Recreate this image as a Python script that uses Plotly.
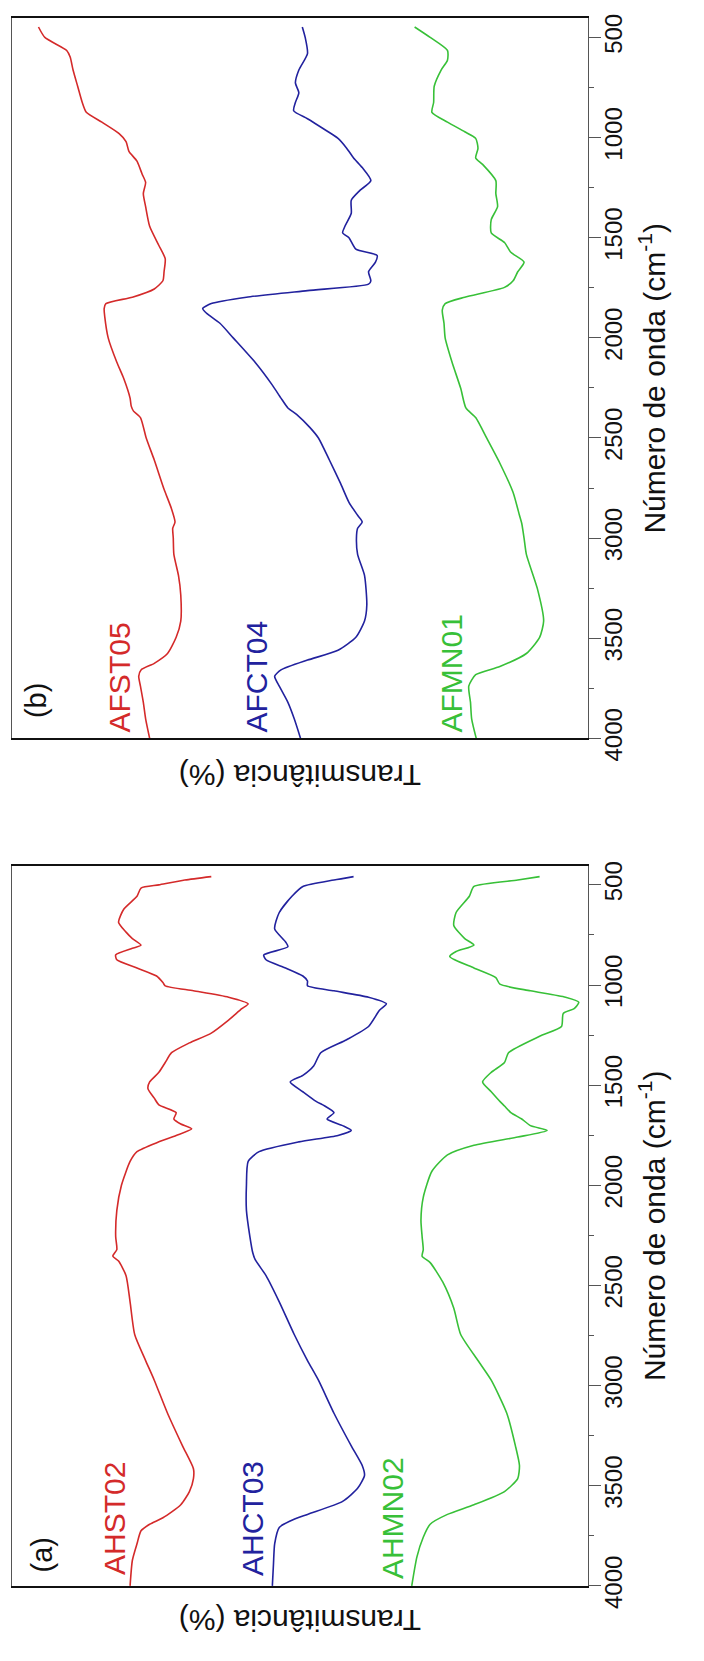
import plotly.graph_objects as go

# ---------------- data: panel (b) ----------------
wn_b_st05 = [448, 500, 565, 598, 663, 744, 825, 874, 923, 980, 1020, 1069, 1118, 1183, 1224, 1280, 1345, 1443, 1539, 1605, 1670, 1715, 1756, 1797, 1829, 1854, 1894, 2000, 2122, 2203, 2301, 2341, 2366, 2398, 2500, 2610, 2756, 2854, 2919, 2951, 3000, 3081, 3186, 3284, 3414, 3495, 3576, 3625, 3658, 3690, 3739, 3820, 3902, 4000]
t_afst05 = [95.4, 94.3, 90.5, 89.9, 89.4, 88.6, 87.8, 87.1, 84.4, 81.4, 80.2, 79.7, 78.3, 77.4, 76.8, 77.2, 76.8, 76.1, 74.5, 73.4, 73.6, 73.8, 75.3, 79.1, 83.7, 84.0, 83.9, 83.3, 81.8, 80.6, 79.5, 79.3, 78.9, 77.7, 76.7, 75.3, 73.6, 72.3, 71.7, 72.1, 72.0, 71.9, 71.1, 70.7, 70.7, 71.5, 73.0, 75.3, 77.6, 78.0, 77.7, 77.2, 76.8, 76.1]

wn_b_ct04 = [448, 500, 581, 663, 727, 776, 825, 866, 906, 955, 1004, 1053, 1102, 1150, 1215, 1264, 1313, 1378, 1443, 1476, 1500, 1557, 1589, 1622, 1670, 1715, 1732, 1764, 1797, 1829, 1854, 1878, 1927, 2000, 2122, 2236, 2301, 2350, 2382, 2447, 2500, 2610, 2724, 2821, 2886, 2919, 2951, 3000, 3081, 3186, 3333, 3414, 3495, 3560, 3609, 3658, 3690, 3739, 3820, 3902, 4000]
t_afct04 = [49.6, 49.1, 48.7, 50.2, 50.8, 50.2, 50.8, 51.1, 48.7, 46.0, 43.4, 41.9, 40.7, 39.2, 37.7, 39.6, 41.1, 41.1, 42.2, 42.6, 41.5, 40.3, 36.6, 36.9, 38.1, 37.7, 38.1, 48.7, 59.3, 65.4, 66.9, 66.2, 63.9, 61.6, 57.8, 54.8, 53.3, 52.1, 50.6, 48.3, 46.8, 44.9, 43.0, 41.5, 40.0, 39.2, 40.0, 40.2, 40.0, 38.8, 38.4, 38.8, 40.3, 43.4, 48.7, 53.3, 54.4, 53.6, 52.1, 51.0, 49.9]

wn_b_mn01 = [448, 500, 565, 614, 663, 744, 825, 874, 923, 971, 1004, 1053, 1102, 1134, 1215, 1280, 1345, 1410, 1476, 1524, 1573, 1622, 1670, 1715, 1748, 1797, 1829, 1862, 1927, 2000, 2122, 2252, 2350, 2398, 2500, 2626, 2772, 2886, 2927, 3000, 3081, 3251, 3414, 3495, 3576, 3641, 3682, 3739, 3820, 3902, 4000]
t_afmn01 = [30.1, 27.4, 24.4, 24.4, 25.5, 26.7, 26.8, 27.1, 24.4, 21.4, 19.5, 19.1, 19.5, 18.3, 16.0, 16.0, 15.7, 16.8, 16.8, 14.5, 13.4, 11.1, 12.2, 13.0, 14.5, 21.4, 24.8, 25.3, 25.0, 24.8, 23.6, 22.1, 21.2, 19.5, 17.6, 15.3, 13.0, 11.9, 11.5, 11.1, 10.7, 8.8, 7.7, 8.4, 10.7, 15.3, 19.5, 20.7, 20.4, 20.2, 19.4]

# ---------------- data: panel (a) ----------------
wn_a_st02 = [459, 476, 500, 516, 557, 622, 687, 736, 768, 801, 817, 850, 874, 915, 955, 988, 1004, 1029, 1061, 1094, 1118, 1175, 1240, 1289, 1338, 1387, 1436, 1484, 1517, 1565, 1598, 1637, 1669, 1694, 1718, 1751, 1783, 1832, 1881, 2000, 2125, 2256, 2321, 2354, 2378, 2451, 2582, 2745, 2875, 2973, 3138, 3301, 3415, 3464, 3529, 3595, 3660, 3692, 3725, 3790, 3872, 4000]
t_ahst02 = [65.4, 70.0, 74.5, 77.6, 78.3, 80.6, 81.5, 80.2, 79.1, 77.6, 79.1, 82.0, 81.8, 78.3, 74.9, 73.8, 73.4, 68.5, 62.4, 59.0, 60.1, 62.4, 65.4, 69.2, 72.3, 73.4, 74.5, 76.1, 76.4, 75.3, 74.5, 71.5, 71.9, 70.7, 68.8, 71.5, 74.5, 78.3, 79.5, 81.0, 81.8, 82.0, 81.8, 82.5, 81.5, 80.2, 79.5, 78.7, 76.8, 75.3, 73.0, 70.4, 68.5, 68.5, 69.2, 70.7, 73.8, 76.1, 77.6, 78.3, 79.1, 79.5]

wn_a_ct03 = [459, 476, 508, 557, 638, 720, 785, 809, 850, 874, 915, 955, 980, 1004, 1029, 1061, 1094, 1126, 1207, 1273, 1338, 1403, 1451, 1484, 1533, 1581, 1604, 1637, 1669, 1702, 1726, 1751, 1783, 1832, 1881, 2000, 2125, 2256, 2337, 2370, 2451, 2582, 2745, 2875, 2973, 3138, 3301, 3399, 3448, 3513, 3578, 3643, 3676, 3708, 3790, 3888, 4000]
t_ahct03 = [40.7, 44.1, 49.5, 51.4, 53.6, 54.4, 52.5, 52.1, 56.3, 55.9, 52.5, 49.5, 48.7, 48.7, 44.1, 38.1, 35.0, 36.2, 38.1, 41.9, 46.4, 47.6, 49.5, 51.7, 49.5, 47.2, 45.7, 44.1, 45.3, 42.6, 41.1, 43.4, 50.2, 57.1, 59.0, 59.3, 59.3, 58.7, 58.2, 57.8, 55.9, 53.6, 51.0, 48.7, 46.8, 44.1, 41.1, 39.2, 38.8, 40.0, 42.6, 48.7, 51.7, 53.6, 54.4, 54.6, 54.8]

wn_a_mn02 = [459, 476, 508, 557, 638, 703, 768, 801, 833, 858, 915, 963, 996, 1029, 1061, 1086, 1118, 1142, 1207, 1256, 1338, 1387, 1436, 1484, 1533, 1581, 1604, 1637, 1669, 1702, 1726, 1759, 1800, 1848, 1930, 2060, 2174, 2256, 2321, 2354, 2386, 2484, 2614, 2745, 2875, 2973, 3138, 3301, 3399, 3464, 3529, 3595, 3643, 3692, 3757, 3855, 4000]
t_ahmn02 = [8.4, 12.2, 19.8, 20.6, 22.9, 23.3, 21.4, 19.8, 22.9, 24.0, 19.8, 16.0, 15.3, 10.0, 3.9, 1.6, 2.4, 4.3, 4.6, 8.4, 13.8, 14.5, 16.8, 18.3, 16.8, 15.3, 14.5, 13.4, 11.5, 10.0, 7.1, 12.2, 19.8, 24.4, 27.1, 28.6, 29.0, 28.8, 28.6, 28.8, 27.4, 25.2, 23.3, 22.1, 19.1, 16.8, 14.1, 12.6, 11.9, 12.2, 14.5, 19.8, 24.4, 27.4, 28.6, 29.7, 30.6]

tick_vals = [500, 1000, 1500, 2000, 2500, 3000, 3500, 4000]
tick_text = [str(v) for v in tick_vals]

RED = "#d42a2a"
BLUE = "#22229e"
GREEN = "#38c038"
FONT = "Liberation Sans, Arial, sans-serif"

W, H = 704, 1661
LEFT, RIGHT = 12, 588


def px(x):
    return x / W


def py(y):
    return 1 - y / H


fig = go.Figure()

series = [
    (wn_b_st05, t_afst05, RED, "x", "y", "AFST05"),
    (wn_b_ct04, t_afct04, BLUE, "x", "y", "AFCT04"),
    (wn_b_mn01, t_afmn01, GREEN, "x", "y", "AFMN01"),
    (wn_a_st02, t_ahst02, RED, "x2", "y2", "AHST02"),
    (wn_a_ct03, t_ahct03, BLUE, "x2", "y2", "AHCT03"),
    (wn_a_mn02, t_ahmn02, GREEN, "x2", "y2", "AHMN02"),
]
for wn, t, col, xa, ya, name in series:
    fig.add_trace(go.Scatter(x=t, y=wn, mode="lines", name=name,
                             line=dict(color=col, width=1.6, shape="spline", smoothing=0.6),
                             xaxis=xa, yaxis=ya, showlegend=False, hoverinfo="skip"))

xdom = [px(LEFT), px(RIGHT)]
common_x = dict(range=[100, 0], showticklabels=False, ticks="", showgrid=False,
                zeroline=False, showline=True, mirror=True, linecolor="#111", linewidth=1.5)
common_y = dict(side="right", tickmode="array", tickvals=tick_vals, ticktext=tick_text,
                ticks="outside", ticklen=12, tickwidth=1, tickcolor="#555",
                tickangle=-90, tickfont=dict(size=24, family=FONT, color="#111"),
                ticklabelstandoff=-8,
                showgrid=False, zeroline=False, showline=True, mirror=True,
                linecolor="#555", linewidth=1.2,
                minor=dict(dtick=250, tick0=500, ticks="outside", ticklen=5,
                           tickcolor="#555", tickwidth=1))

fig.update_layout(
    width=W, height=H, margin=dict(l=0, r=0, t=0, b=0),
    paper_bgcolor="white", plot_bgcolor="white",
    xaxis=dict(domain=xdom, anchor="y", **common_x),
    yaxis=dict(domain=[py(746), py(13)], anchor="x", range=[4000, 402], **common_y),
    xaxis2=dict(domain=xdom, anchor="y2", **common_x),
    yaxis2=dict(domain=[py(1608), py(876)], anchor="x2", range=[4000, 407], **common_y),
)

ann = []


def add_text(text, x, y, angle, color="#111", size=30):
    ann.append(dict(text=text, x=px(x), y=py(y), xref="paper", yref="paper",
                    xanchor="center", yanchor="middle", showarrow=False,
                    textangle=angle, font=dict(size=size, family=FONT, color=color)))


# panel (b)
add_text("(b)", 36, 708, -90, size=29)
add_text("AFST05", 119, 684, -90, RED)
add_text("AFCT04", 256, 683, -90, BLUE)
add_text("AFMN01", 452, 680, -90, GREEN)
add_text("Transmitância (%)", 300, 783, 180)
add_text("Número de onda (cm<sup>-1</sup>)", 652, 380, -90)
# panel (a)
add_text("(a)", 42, 1577, -90, size=29)
add_text("AHST02", 114, 1540, -90, RED)
add_text("AHCT03", 252, 1540, -90, BLUE)
add_text("AHMN02", 392, 1539, -90, GREEN)
add_text("Transmitância (%)", 300, 1643, 180)
add_text("Número de onda (cm<sup>-1</sup>)", 652, 1242, -90)

fig.update_layout(annotations=ann)
fig.write_html("out.html")
